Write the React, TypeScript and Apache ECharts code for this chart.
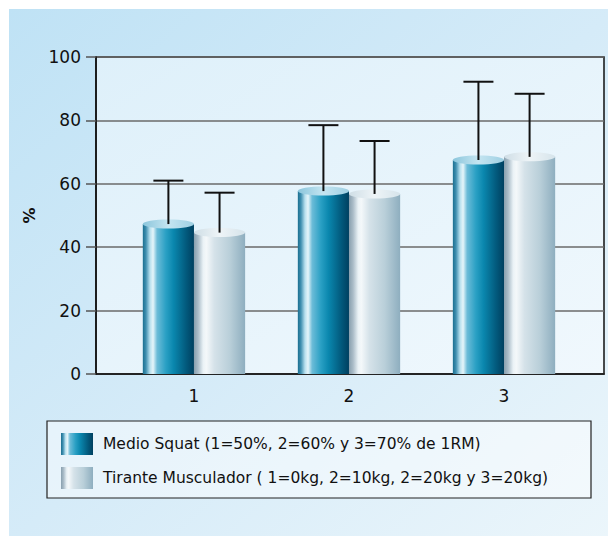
import React, { useEffect, useRef } from "react";
import * as echarts from "echarts";

const categories = [1, 2, 3];
const categoryLabels = ["1", "2", "3"];
const medioValues = [47.3, 57.7, 67.5];
const medioErrors = [13.7, 20.8, 24.7];
const tiranteValues = [44.6, 56.8, 68.5];
const tiranteErrors = [12.6, 16.7, 19.9];
const seriesNames = [
  "Medio Squat (1=50%, 2=60% y 3=70% de 1RM)",
  "Tirante Musculador ( 1=0kg, 2=10kg, 2=20kg y 3=20kg)",
];
const yMin = 0;
const yMax = 100;
const yInterval = 20;

const FONT = "DejaVu Sans";

const darkStops = [
  { offset: 0, color: "#1b6f90" },
  { offset: 0.06, color: "#3f8fb0" },
  { offset: 0.14, color: "#b8e0ee" },
  { offset: 0.2, color: "#e6f5fa" },
  { offset: 0.28, color: "#6cbcd8" },
  { offset: 0.45, color: "#2aa0c4" },
  { offset: 0.6, color: "#0a87ae" },
  { offset: 0.85, color: "#02597c" },
  { offset: 1, color: "#004060" },
];
const lightStops = [
  { offset: 0, color: "#889fae" },
  { offset: 0.08, color: "#aabcc8" },
  { offset: 0.18, color: "#eaf2f6" },
  { offset: 0.24, color: "#f4f8fa" },
  { offset: 0.4, color: "#d5e2e9" },
  { offset: 0.7, color: "#b9cfd9" },
  { offset: 1, color: "#8eaebf" },
];
const darkTopStops = [
  { offset: 0, color: "#8cc6dc" },
  { offset: 0.5, color: "#c4e5f1" },
  { offset: 1, color: "#9fd0e3" },
];
const lightTopStops = [
  { offset: 0, color: "#cfdee6" },
  { offset: 0.5, color: "#eef4f7" },
  { offset: 1, color: "#d6e4eb" },
];

function grad(stops: any[]) {
  return new echarts.graphic.LinearGradient(0, 0, 1, 0, stops);
}

function makeRender(side: number, bodyStops: any[], topStops: any[]) {
  return (params: any, api: any) => {
    const x = api.value(0);
    const v = api.value(1);
    const e = api.value(2);
    const unit = api.size([1, 0])[0];
    const w = unit * 0.33;
    const center = api.coord([x, v]);
    const base = api.coord([x, 0]);
    const cx = center[0] + (side * w) / 2;
    const left = cx - w / 2;
    const topY = center[1];
    const errY = api.coord([x, v + e])[1];
    const ry = 4.5;
    return {
      type: "group",
      children: [
        {
          type: "rect",
          shape: { x: left, y: topY, width: w, height: base[1] - topY },
          style: { fill: grad(bodyStops) },
        },
        {
          type: "ellipse",
          shape: { cx, cy: topY, rx: w / 2, ry },
          style: { fill: grad(topStops) },
        },
        {
          type: "line",
          shape: { x1: cx, y1: topY, x2: cx, y2: errY },
          style: { stroke: "#111", lineWidth: 2 },
        },
        {
          type: "line",
          shape: { x1: cx - 15, y1: errY, x2: cx + 15, y2: errY },
          style: { stroke: "#111", lineWidth: 2 },
        },
      ],
    };
  };
}

export default function App() {
  const ref = useRef<HTMLDivElement>(null);
  useEffect(() => {
    if (!ref.current) return;
    const chart = echarts.init(ref.current, null, { renderer: "svg" });
    const medioData = categories.map((c, i) => [c, medioValues[i], medioErrors[i]]);
    const tiranteData = categories.map((c, i) => [c, tiranteValues[i], tiranteErrors[i]]);
    chart.setOption({
      animation: false,
      textStyle: { fontFamily: FONT, color: "#111" },
      graphic: [
        {
          type: "rect",
          z: -10,
          silent: true,
          shape: { x: 9, y: 9, width: 608, height: 536 },
          style: {
            fill: new echarts.graphic.LinearGradient(0, 0, 1, 1, [
              { offset: 0, color: "#bfe2f5" },
              { offset: 0.5, color: "#d5ebf8" },
              { offset: 1, color: "#ecf6fb" },
            ]),
          },
        },
        {
          type: "rect",
          z: -5,
          silent: true,
          shape: { x: 47, y: 421, width: 544, height: 77 },
          style: { fill: "rgba(255,255,255,0.45)", stroke: "#222", lineWidth: 1.2 },
        },
      ],
      grid: {
        left: 96,
        right: 4,
        top: 57,
        bottom: 162,
        show: true,
        borderColor: "#111",
        borderWidth: 1.5,
        backgroundColor: new echarts.graphic.LinearGradient(0, 0, 1, 1, [
          { offset: 0, color: "#def0fa" },
          { offset: 1, color: "#f0f8fd" },
        ]),
      },
      legend: {
        orient: "vertical",
        left: 61,
        top: 433,
        padding: 0,
        itemWidth: 32,
        itemHeight: 22,
        itemGap: 12,
        selectedMode: false,
        icon: "rect",
        textStyle: { fontSize: 15.5, fontFamily: FONT, color: "#111", padding: [0, 0, 0, 5] },
        data: [
          { name: seriesNames[0], itemStyle: { color: grad(darkStops) } },
          { name: seriesNames[1], itemStyle: { color: grad(lightStops) } },
        ],
      },
      xAxis: {
        type: "value",
        min: 0.368,
        max: 3.645,
        axisLine: { show: true, lineStyle: { color: "#111", width: 1.5 } },
        axisTick: { show: false },
        splitLine: { show: false },
        axisLabel: {
          customValues: categories,
          formatter: (v: number) => categoryLabels[categories.indexOf(Math.round(v))] ?? "",
          fontSize: 17,
          color: "#111",
          margin: 13,
          fontFamily: FONT,
        },
      },
      yAxis: {
        type: "value",
        min: yMin,
        max: yMax,
        interval: yInterval,
        name: "%",
        nameLocation: "middle",
        nameRotate: 90,
        nameGap: 52,
        nameTextStyle: { fontSize: 16, fontWeight: "bold", color: "#111", fontFamily: FONT },
        axisLine: { show: true, lineStyle: { color: "#111", width: 1.5 } },
        axisTick: { show: true, length: 10, lineStyle: { color: "#555", width: 1.5 } },
        axisLabel: { fontSize: 17, color: "#111", margin: 15, fontFamily: FONT },
        splitLine: { show: true, lineStyle: { color: "#6a6a6a", width: 1.5 } },
      },
      series: [
        {
          name: seriesNames[0],
          type: "custom",
          itemStyle: { color: grad(darkStops) },
          renderItem: makeRender(-1, darkStops, darkTopStops),
          encode: { x: 0, y: [1, 2] },
          data: medioData,
          z: 5,
        },
        {
          name: seriesNames[1],
          type: "custom",
          itemStyle: { color: grad(lightStops) },
          renderItem: makeRender(1, lightStops, lightTopStops),
          encode: { x: 0, y: [1, 2] },
          data: tiranteData,
          z: 5,
        },
      ],
    });
    return () => chart.dispose();
  }, []);
  return (
    <div
      ref={ref}
      style={{ position: "fixed", left: 0, top: 0, width: 608, height: 536, background: "#fff" }}
    />
  );
}
